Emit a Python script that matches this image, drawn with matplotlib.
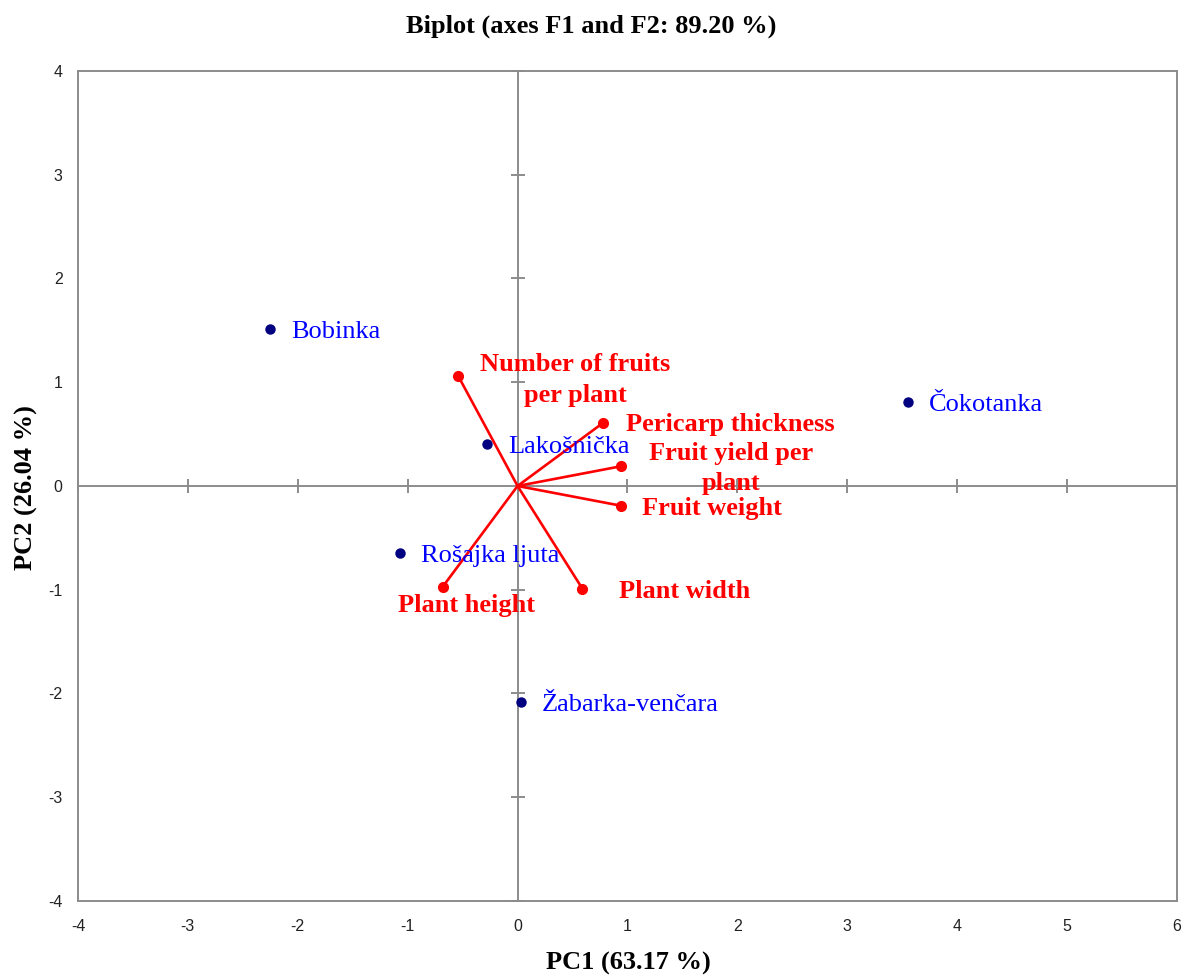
import matplotlib.pyplot as plt

plt.rcParams['axes.unicode_minus'] = False

# observations (cultivars)
obs_names = ['Bobinka', 'Čokotanka', 'Lakošnička', 'Rošajka ljuta', 'Žabarka-venčara']
obs_x = [-2.25, 3.55, -0.28, -1.07, 0.03]
obs_y = [1.51, 0.81, 0.40, -0.65, -2.08]

# variables (loadings)
var_names = ['Number of fruits\nper plant', 'Pericarp thickness', 'Fruit yield per\nplant',
             'Fruit weight', 'Plant width', 'Plant height']
var_x = [-0.54, 0.78, 0.94, 0.94, 0.59, -0.68]
var_y = [1.06, 0.61, 0.19, -0.19, -0.99, -0.97]

x_ticks = [-4, -3, -2, -1, 0, 1, 2, 3, 4, 5, 6]
y_ticks = [-4, -3, -2, -1, 0, 1, 2, 3, 4]

# label placement (offset in pixels, horizontal alignment)
var_label_pos = [(117, -4, 'center'), (23, -2, 'left'), (110, -2, 'center'),
                 (21, -3, 'left'), (37, -3, 'left'), (24, -19, 'center')]

SERIF = 'Liberation Serif'
GRAY = '#8c8c8c'


def main():
    fig = plt.figure(figsize=(11.83, 9.75), dpi=100)
    ax = fig.add_axes([0.0659, 0.0759, 0.929, 0.8513])

    ax.set_xlim(x_ticks[0], x_ticks[-1])
    ax.set_ylim(y_ticks[0], y_ticks[-1])
    ax.set_xticks(x_ticks)
    ax.set_yticks(y_ticks)
    for s in ax.spines.values():
        s.set_color(GRAY)
        s.set_linewidth(1.4)
    ax.tick_params(length=0, labelsize=11.5, labelcolor='#222222')
    ax.tick_params(axis='y', pad=11)
    ax.tick_params(axis='x', pad=13)
    for lab in ax.get_xticklabels() + ax.get_yticklabels():
        lab.set_fontfamily('Liberation Sans')

    # axes through the origin with cross ticks
    ax.axhline(0, color=GRAY, lw=1.4, zorder=1)
    ax.axvline(0, color=GRAY, lw=1.4, zorder=1)
    ax.plot([t for t in x_ticks if t != 0], [0] * (len(x_ticks) - 1), ls='none',
            marker='|', ms=10, mew=1.4, color=GRAY, zorder=1, clip_on=False)
    ax.plot([0] * (len(y_ticks) - 1), [t for t in y_ticks if t != 0], ls='none',
            marker='_', ms=10, mew=1.4, color=GRAY, zorder=1, clip_on=False)

    # observations
    ax.plot(obs_x, obs_y, ls='none', marker='o', ms=6.5, color='#000080', zorder=4)
    for name, x, y in zip(obs_names, obs_x, obs_y):
        ax.annotate(name, (x, y), xytext=(21, -3), textcoords='offset pixels',
                    ha='left', va='center', fontsize=19, family=SERIF,
                    color='#0000ff', zorder=5)

    # variables
    for name, x, y, (dx, dy, ha) in zip(var_names, var_x, var_y, var_label_pos):
        ax.plot([0, x], [0, y], color='#ff0000', lw=1.9, zorder=3)
        ax.plot(x, y, marker='o', ms=7, color='#ff0000', zorder=3)
        ax.annotate(name, (x, y), xytext=(dx, dy), textcoords='offset pixels',
                    ha=ha, va='center', multialignment='center', fontsize=19,
                    linespacing=1.4, family=SERIF, fontweight='bold',
                    color='#ff0000', zorder=5)

    fig.text(0.5, 0.973, 'Biplot (axes F1 and F2: 89.20 %)', ha='center', va='center',
             fontsize=19, family=SERIF, fontweight='bold')
    fig.text(0.531, 0.012, 'PC1 (63.17 %)', ha='center', va='center',
             fontsize=19, family=SERIF, fontweight='bold')
    fig.text(0.022, 0.5, 'PC2 (26.04 %)', ha='center', va='center', rotation=90,
             fontsize=19, family=SERIF, fontweight='bold')

    fig.savefig('out.png', dpi=100)


if __name__ == '__main__':
    main()
